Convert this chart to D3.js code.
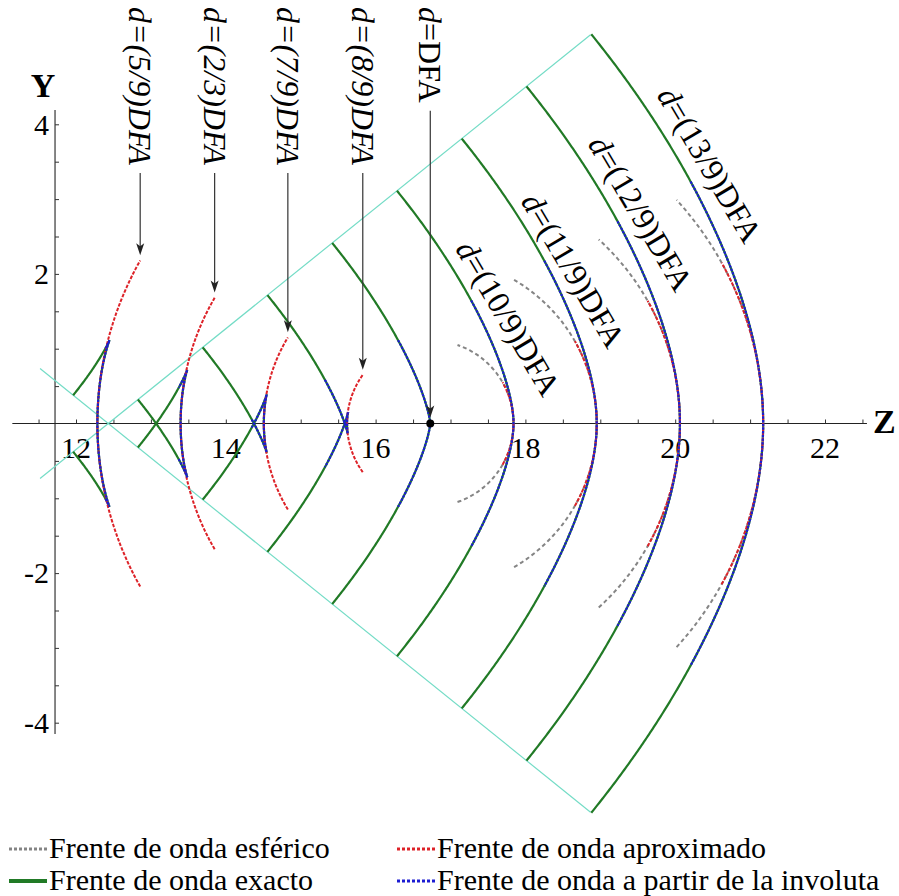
<!DOCTYPE html>
<html><head><meta charset="utf-8">
<script src="https://cdn.jsdelivr.net/npm/d3@7/dist/d3.min.js"></script>
<style>
body{margin:0;background:#fff;}
</style></head><body>
<svg id="chart" width="899" height="896"></svg>
<script>
// Wavefronts after the lens: d = (n/9)·DFA
const fractionNumerators = [5, 6, 7, 8, 9, 10, 11, 12, 13];
const topLabelNumerators = [5, 6, 7, 8, 9];
const topLabelTexts = ["=(5/9)DFA", "=(2/3)DFA", "=(7/9)DFA", "=(8/9)DFA", "=DFA"];
const sideLabelNumerators = [10, 11, 12, 13];
const sideLabelTexts = ["=(10/9)DFA", "=(11/9)DFA", "=(12/9)DFA", "=(13/9)DFA"];

// Optical system
const DFA = 10;                 // axial focal distance
const focusZ = 16.73;           // paraxial focus on the Z axis
const coneVertexZ = 12.43;      // where the marginal rays cross the axis
const coneSlope = 0.807;        // tan of the marginal ray angle
const coneRangeZ = [11.52, 18.87];
const involuteMaxAngleDeg = 28.5;

// Half heights (Y) of the approximate and spherical fronts, per numerator
const approxHalfHeight = [2.18, 1.68, 1.15, 0.65, 0, 0.55, 1.10, 1.64, 2.15];
const sphericalHalfHeight = [0, 0, 0, 0, 0, 1.05, 1.92, 2.46, 2.99];

// Axes
const zTickLabels = [12, 14, 16, 18, 20, 22];
const yTickLabels = [-4, -2, 2, 4];
const zAxisRange = [11.15, 22.56];
const yAxisRange = [-4.15, 4.19];
const yAxisAtZ = 11.72;

// Legend
const legendItems = [
  {text: "Frente de onda esférico", kind: "spherical"},
  {text: "Frente de onda aproximado", kind: "approx"},
  {text: "Frente de onda exacto", kind: "exact"},
  {text: "Frente de onda a partir de la involuta", kind: "involute"}
];

const styles = {
  cone: {stroke: "#74dcc6", width: 1.2, dash: null},
  exact: {stroke: "#217a26", width: 2.2, dash: null},
  spherical: {stroke: "#858585", width: 2, dash: "4,3"},
  approx: {stroke: "#dd2228", width: 2, dash: "3.5,1.5"},
  involute: {stroke: "#1c1cd2", width: 2.2, dash: "2.5,1.2"}
};
const FONT = "Liberation Serif, DejaVu Serif, serif";

const svg = d3.select("#chart");
const x = d3.scaleLinear().domain([12, 22]).range([76, 825]);
const y = d3.scaleLinear().domain([-4, 4]).range([722.7, 124.3]);
const line = d3.line().x(p => x(p[0])).y(p => y(p[1]));

// Ray model: a ray leaving at angle a crosses the axis at crossing(a)
// after travelling opticalPath(a); the front is the set of points at d.
const alpha0 = Math.atan(coneSlope);
const aberration = (focusZ - coneVertexZ) / Math.sin(alpha0) ** 2;
const crossing = a => focusZ - aberration * Math.sin(a) ** 2;
const opticalPath = a => DFA + (2 * aberration / 3) * (Math.cos(a) ** 3 - 1);
function branch(d, aMax, side) {
  const pts = [], N = 300;
  for (let i = 0; i <= N; i++) {
    const a = aMax * (1 - i / N);
    const t = d - opticalPath(a);
    pts.push([crossing(a) + t * Math.cos(a), side * t * Math.sin(a)]);
  }
  return pts;
}
function sphere(d, h) {
  const r = d - DFA, pts = [], N = 120, s = Math.sign(r);
  for (let i = 0; i <= N; i++) {
    const Y = -h + 2 * h * i / N;
    pts.push([focusZ + s * Math.sqrt(r * r - Y * Y), Y]);
  }
  return pts;
}
function styled(sel, st) {
  sel.attr("fill", "none").attr("stroke", st.stroke).attr("stroke-width", st.width);
  if (st.dash) sel.attr("stroke-dasharray", st.dash);
  return sel;
}
function label(g) {
  return g.append("text").style("font-family", FONT).attr("fill", "#000");
}

// Axes
const axes = svg.append("g");
axes.append("line").attr("x1", x(zAxisRange[0])).attr("x2", x(zAxisRange[1]))
  .attr("y1", y(0)).attr("y2", y(0)).attr("stroke", "#222").attr("stroke-width", 1.1);
axes.append("line").attr("x1", x(yAxisAtZ)).attr("x2", x(yAxisAtZ))
  .attr("y1", y(yAxisRange[0])).attr("y2", y(yAxisRange[1])).attr("stroke", "#222").attr("stroke-width", 1.1);
const zAx = d3.axisTop(x).tickValues(d3.range(11.5, 22.51, 0.5)).tickSize(4).tickFormat("");
axes.append("g").attr("transform", `translate(0,${y(0)})`).call(zAx)
  .call(g => g.select(".domain").remove()).selectAll("line").attr("stroke", "#333");
const yAx = d3.axisRight(y).tickValues(d3.range(-4, 4.01, 0.5).filter(v => v !== 0)).tickSize(4).tickFormat("");
axes.append("g").attr("transform", `translate(${x(yAxisAtZ)},0)`).call(yAx)
  .call(g => g.select(".domain").remove()).selectAll("line").attr("stroke", "#333");
zTickLabels.forEach(v => {
  label(axes).attr("x", x(v)).attr("y", y(0) + 34).attr("text-anchor", "middle")
    .attr("font-size", 30).text(v);
});
yTickLabels.forEach(v => {
  label(axes).attr("x", x(yAxisAtZ) - 6).attr("y", y(v)).attr("dy", "0.34em").attr("text-anchor", "end")
    .attr("font-size", 30).text(v);
});
label(axes).attr("x", x(yAxisAtZ) - 12).attr("y", 97).attr("text-anchor", "middle")
  .attr("font-size", 34).attr("font-weight", "bold").text("Y");
label(axes).attr("x", 873).attr("y", 433).attr("text-anchor", "start")
  .attr("font-size", 34).attr("font-weight", "bold").text("Z");

// Cone of marginal rays
const plot = svg.append("g");
[1, -1].forEach(s => {
  styled(plot.append("path"), styles.cone)
    .attr("d", line(coneRangeZ.map(z => [z, s * coneSlope * (z - coneVertexZ)])));
});

// Exact fronts
fractionNumerators.forEach(n => {
  const d = DFA * n / 9;
  [1, -1].forEach(s => styled(plot.append("path"), styles.exact).attr("d", line(branch(d, alpha0, s))));
});
// Spherical fronts
fractionNumerators.forEach((n, i) => {
  const h = sphericalHalfHeight[i];
  if (h > 0) styled(plot.append("path"), styles.spherical).attr("d", line(sphere(DFA * n / 9, h)));
});
// Approximate fronts
fractionNumerators.forEach((n, i) => {
  const h = approxHalfHeight[i];
  if (h > 0) styled(plot.append("path"), styles.approx).attr("d", line(sphere(DFA * n / 9, h)));
});
// Fronts from the involute
const aInv = involuteMaxAngleDeg * Math.PI / 180;
fractionNumerators.forEach(n => {
  const d = DFA * n / 9;
  const pts = branch(d, aInv, 1).concat(branch(d, aInv, -1).reverse());
  styled(plot.append("path"), styles.involute).attr("d", line(pts));
});
// Focus point
plot.append("circle").attr("cx", x(focusZ)).attr("cy", y(0)).attr("r", 4).attr("fill", "#000");

// Top labels with arrows
const ann = svg.append("g");
topLabelNumerators.forEach((n, i) => {
  const d = DFA * n / 9;
  const idx = fractionNumerators.indexOf(n);
  const h = approxHalfHeight[idx];
  const tipZ = n === 9 ? focusZ : focusZ - Math.sqrt((d - DFA) ** 2 - h * h);
  const tipY = n === 9 ? 0.08 : h + 0.07;
  const ax = x(tipZ);
  const t = label(ann).attr("transform", `translate(${ax},7) rotate(90)`)
    .attr("dy", "0.34em").attr("font-size", 32).attr("font-style", "italic");
  t.append("tspan").text("d");
  t.append("tspan").attr("font-style", n === 9 ? "normal" : "italic").text(topLabelTexts[i]);
  const len = t.node().getComputedTextLength();
  const y0 = 7 + len + 8, y1 = y(tipY);
  ann.append("line").attr("x1", ax).attr("x2", ax).attr("y1", y0).attr("y2", y1 - 8)
    .attr("stroke", "#333").attr("stroke-width", 1.2);
  ann.append("path").attr("d", `M${ax},${y1} L${ax - 4},${y1 - 12} L${ax},${y1 - 9} L${ax + 4},${y1 - 12} Z`)
    .attr("fill", "#222");
});

// Side labels along the outer fronts
const sideLabelPos = [[17.77, 1.41], [18.64, 2.05], [19.54, 2.81], [20.46, 3.46]];
sideLabelNumerators.forEach((n, i) => {
  const [lz, ly] = sideLabelPos[i];
  const t = label(ann).attr("transform", `translate(${x(lz)},${y(ly)}) rotate(59.5)`)
    .attr("text-anchor", "middle").attr("dy", "0.34em").attr("font-size", 32);
  t.append("tspan").attr("font-style", "italic").text("d");
  t.append("tspan").text(sideLabelTexts[i]);
});

// Legend
const leg = svg.append("g");
const legPos = {spherical: [9, 858], approx: [397, 858], exact: [9, 890], involute: [397, 890]};
legendItems.forEach(it => {
  const [lx, ly] = legPos[it.kind];
  const st = styles[it.kind];
  const sw = leg.append("line").attr("x1", lx).attr("x2", lx + 38).attr("y1", ly - 9).attr("y2", ly - 9)
    .attr("stroke", st.stroke).attr("stroke-width", it.kind === "exact" ? 4 : 3);
  if (it.kind !== "exact") sw.attr("stroke-dasharray", "3,2");
  label(leg).attr("x", lx + 40).attr("y", ly).attr("font-size", 30).text(it.text);
});
</script>
</body></html>
